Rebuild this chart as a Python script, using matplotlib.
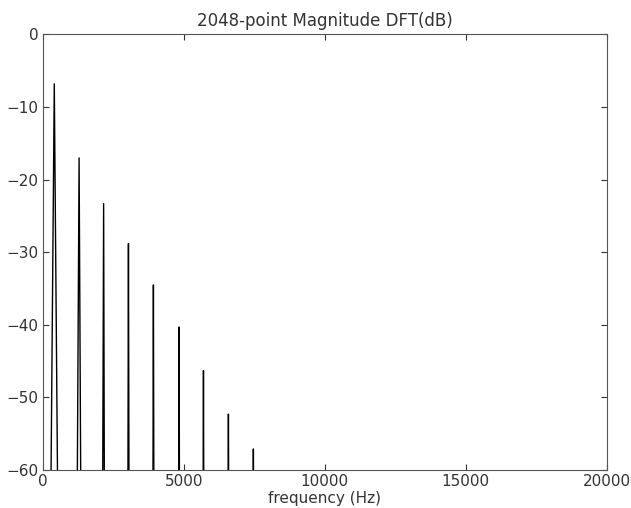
import numpy as np
import matplotlib
matplotlib.use("Agg")
import matplotlib.pyplot as plt

# Peak data (Hz, dB)
peak_freq = [410, 1290, 2160, 3040, 3925, 4835, 5700, 6585, 7470]
peak_db = [-6.8, -17.0, -23.3, -28.8, -34.5, -40.3, -46.3, -52.3, -57.1]
# frequencies where each spike's flanks meet the -60 dB floor
base_left = [294, 1227, 2128, 3022, 3910, 4822, 5690, 6577, 7464]
base_right = [525, 1347, 2184, 3058, 3940, 4848, 5710, 6593, 7476]
floor_db = -60

xticks = [0, 5000, 10000, 15000, 20000]
yticks = [-60, -50, -40, -30, -20, -10, 0]

fig = plt.figure(figsize=(6.31, 5.08), dpi=100)
ax = fig.add_axes([0.0677, 0.0748, 0.8938, 0.8573])

xs, ys = [], []
for bl, pf, br, pd in zip(base_left, peak_freq, base_right, peak_db):
    xs += [bl, pf, br, np.nan]
    ys += [floor_db - 1, pd, floor_db - 1, np.nan]
ax.plot(xs, ys, color="black", lw=1.0)

ax.set_xlim(0, 20000)
ax.set_ylim(-60, 0)
ax.set_xticks(xticks)
ax.set_yticks(yticks)
ax.set_yticklabels(["\u221260", "\u221250", "\u221240", "\u221230", "\u221220", "\u221210", "0"])
ax.tick_params(direction="in", top=True, right=True, length=4, labelsize=11,
               colors="#333333", pad=3)
for s in ax.spines.values():
    s.set_color("#555555")
ax.set_title("2048-point Magnitude DFT(dB)", fontsize=12, color="#333333", pad=6)
ax.set_xlabel("frequency (Hz)", fontsize=11, color="#333333", labelpad=1)

fig.savefig("out.png", dpi=100)
